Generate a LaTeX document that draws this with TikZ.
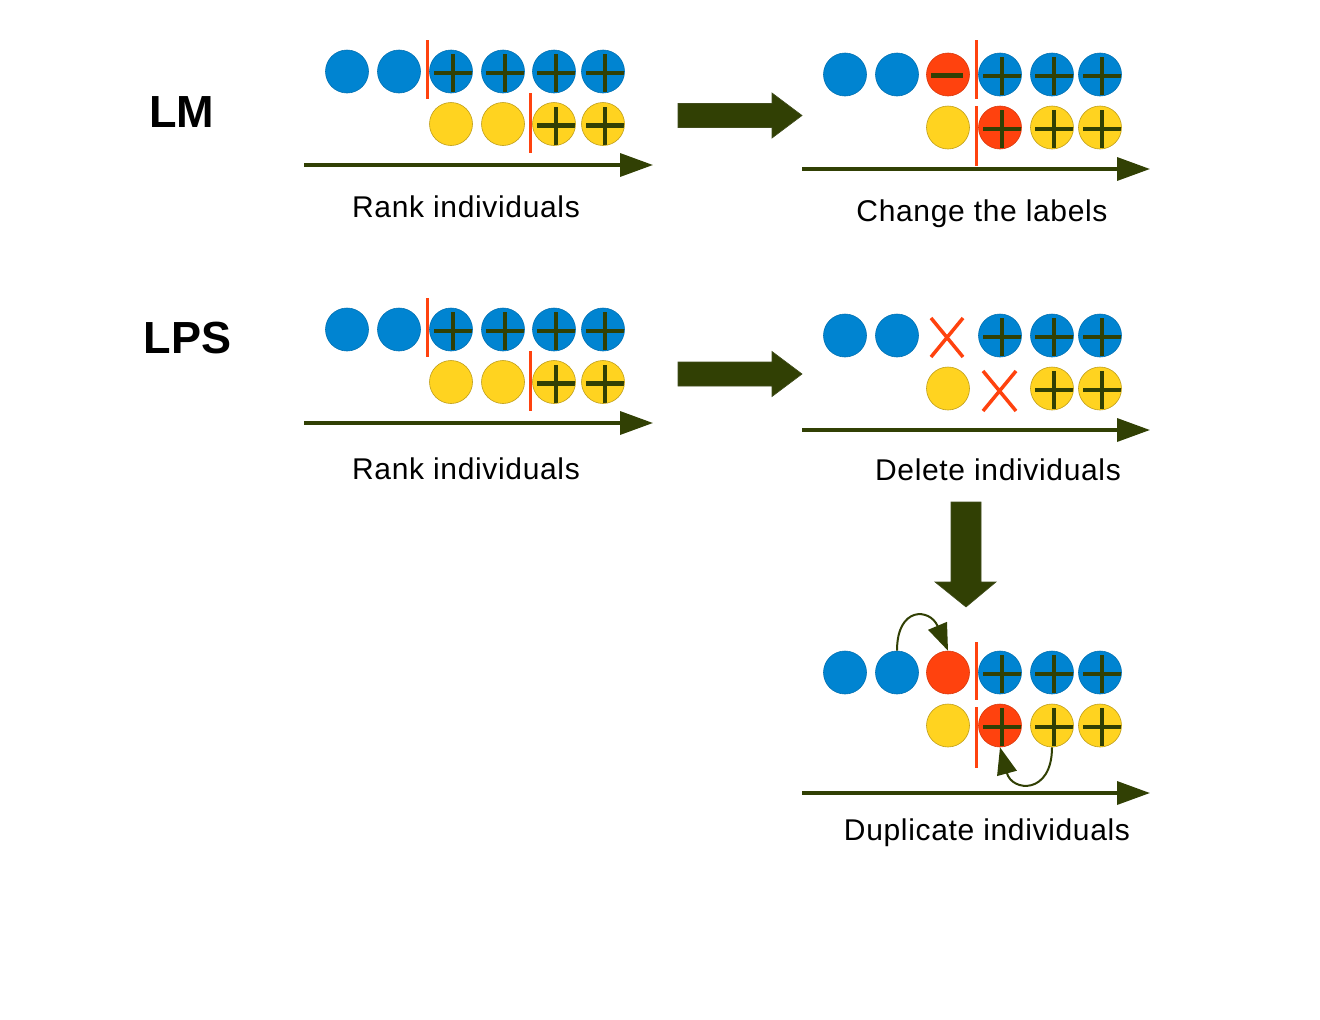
\documentclass[tikz,border=0pt]{standalone}
\usepackage{fontspec}
\setmainfont{Liberation Sans}
\usetikzlibrary{arrows.meta}
\definecolor{cblue}{HTML}{0084D1}
\definecolor{cred}{HTML}{FF420E}
\definecolor{cyel}{HTML}{FFD320}
\definecolor{colive}{HTML}{314004}
\tikzset{
  ind/.style={circle, minimum size=43pt, inner sep=0pt, line width=0.6pt},
  bl/.style={ind, fill=cblue, draw=cblue!85!black},
  ye/.style={ind, fill=cyel, draw=cyel!75!black},
  rd/.style={ind, fill=cred, draw=cred!85!black},
  plus/.style={path picture={\draw[line width=4.5pt, draw=colive]
     ([shift={(2pt,-1.5pt)}]path picture bounding box.center) +(-19pt,0) -- +(19pt,0) +(0,-19pt) -- +(0,19pt);}},
  minus/.style={path picture={\draw[line width=4.5pt, draw=colive]
     ([shift={(-1pt,-1pt)}]path picture bounding box.center) +(-16pt,0) -- +(16pt,0);}},
  blp/.style={bl, plus}, yep/.style={ye, plus}, rdp/.style={rd, plus}, rdm/.style={rd, minus},
  sep/.style={draw=cred, line width=3pt},
  cross/.style={draw=cred, line width=3.5pt},
  axis/.style={draw=colive, line width=3.5pt, -{Triangle[length=33pt,width=23pt]}},
  curv/.style={draw=colive, line width=2pt, -{Triangle[length=27pt,width=20pt]}},
  blockarrow/.style={fill=colive, draw=colive!80!gray, line width=0.6pt},
  lbl/.style={anchor=base, inner sep=0pt, font=\fontsize{30}{36}\selectfont\addfontfeatures{LetterSpace=2.2}},
  title/.style={anchor=base, inner sep=0pt, font=\fontsize{45}{50}\selectfont\bfseries},
}
\begin{document}
\begin{tikzpicture}[x=1pt,y=-1pt]
\useasboundingbox (0,0) rectangle (1320,1020);
\fill[white] (0,0) rectangle (1320,1020);

% titles
\node[title] (tLM) at (181.5,127) {LM};
\node[title] (tLPS) at (187.5,353) {LPS};

% ---------- Panel A: LM rank ----------
\foreach \x/\s [count=\i] in {347/bl,399/bl,451/blp,503/blp,554/blp,603/blp}
  \node[\s] (A-b\i) at (\x,71.5) {};
\foreach \x/\s [count=\i] in {451/ye,503/ye,554/yep,603/yep}
  \node[\s] (A-y\i) at (\x,124) {};
\draw[sep] (427,40) -- (427,99);
\draw[sep] (530,93) -- (530,153);
\coordinate (A-s) at (304,165); \coordinate (A-e) at (653,165);
\draw[axis] (A-s) -- (A-e);
\node[lbl] (A-l) at (466,217) {Rank individuals};

% ---------- Panel B: LM change labels ----------
\foreach \x/\s [count=\i] in {845/bl,897/bl,948/rdm,1000/blp,1052/blp,1100/blp}
  \node[\s] (B-b\i) at (\x,74.5) {};
\foreach \x/\s [count=\i] in {948/ye,1000/rdp,1052/yep,1100/yep}
  \node[\s] (B-y\i) at (\x,127.5) {};
\draw[sep] (976,40) -- (976,99);
\draw[sep] (976,106) -- (976,166);
\coordinate (B-s) at (802,169); \coordinate (B-e) at (1150,169);
\draw[axis] (B-s) -- (B-e);
\node[lbl] (B-l) at (982,221) {Change the labels};

% ---------- Panel C: LPS rank ----------
\foreach \x/\s [count=\i] in {347/bl,399/bl,451/blp,503/blp,554/blp,603/blp}
  \node[\s] (C-b\i) at (\x,329.5) {};
\foreach \x/\s [count=\i] in {451/ye,503/ye,554/yep,603/yep}
  \node[\s] (C-y\i) at (\x,382) {};
\draw[sep] (427,298) -- (427,357);
\draw[sep] (530,351) -- (530,411);
\coordinate (C-s) at (304,423); \coordinate (C-e) at (653,423);
\draw[axis] (C-s) -- (C-e);
\node[lbl] (C-l) at (466,479) {Rank individuals};

% ---------- Panel D: LPS delete ----------
\foreach \x/\s [count=\i] in {845/bl,897/bl}
  \node[\s] (D-b\i) at (\x,335.5) {};
\foreach \x/\s [count=\i] in {1000/blp,1052/blp,1100/blp}
  \node[\s] (D-p\i) at (\x,335.5) {};
\node[ye] (D-y1) at (948,388.5) {};
\foreach \x/\s [count=\i] in {1052/yep,1100/yep}
  \node[\s] (D-q\i) at (\x,388.5) {};
\draw[cross] (931,318) -- (963,357) (963,318) -- (931,357);
\draw[cross] (983,371) -- (1016,411) (1016,371) -- (983,411);
\coordinate (D-s) at (802,430); \coordinate (D-e) at (1150,430);
\draw[axis] (D-s) -- (D-e);
\node[lbl] (D-l) at (998,480) {Delete individuals};

% ---------- Panel E: LPS duplicate ----------
\foreach \x/\s [count=\i] in {845/bl,897/bl,948/rd,1000/blp,1052/blp,1100/blp}
  \node[\s] (E-b\i) at (\x,672.5) {};
\foreach \x/\s [count=\i] in {948/ye,1000/rdp,1052/yep,1100/yep}
  \node[\s] (E-y\i) at (\x,725.5) {};
\draw[sep] (976,642) -- (976,700);
\draw[sep] (976,707) -- (976,768);
\coordinate (E-s) at (802,793); \coordinate (E-e) at (1150,793);
\draw[axis] (E-s) -- (E-e);
\node[lbl] (E-l) at (987,840) {Duplicate individuals};
\draw[curv] (E-b2.north) .. controls (897,606) and (930,608) .. (E-b3.north);
\draw[curv] (E-y3.south) .. controls (1052,795) and (1012,792) .. (E-y2.south);

% ---------- block arrows ----------
\draw[blockarrow] (678,103.5) -- (772,103.5) -- (772,93) -- (802,115.5) -- (772,138) -- (772,127.5) -- (678,127.5) -- cycle;
\draw[blockarrow] (678,362) -- (772,362) -- (772,351.5) -- (802,374) -- (772,396.5) -- (772,386) -- (678,386) -- cycle;
\draw[blockarrow] (951,502) -- (981,502) -- (981,582) -- (996,582) -- (966,607) -- (935,582) -- (951,582) -- cycle;
\end{tikzpicture}
\end{document}
